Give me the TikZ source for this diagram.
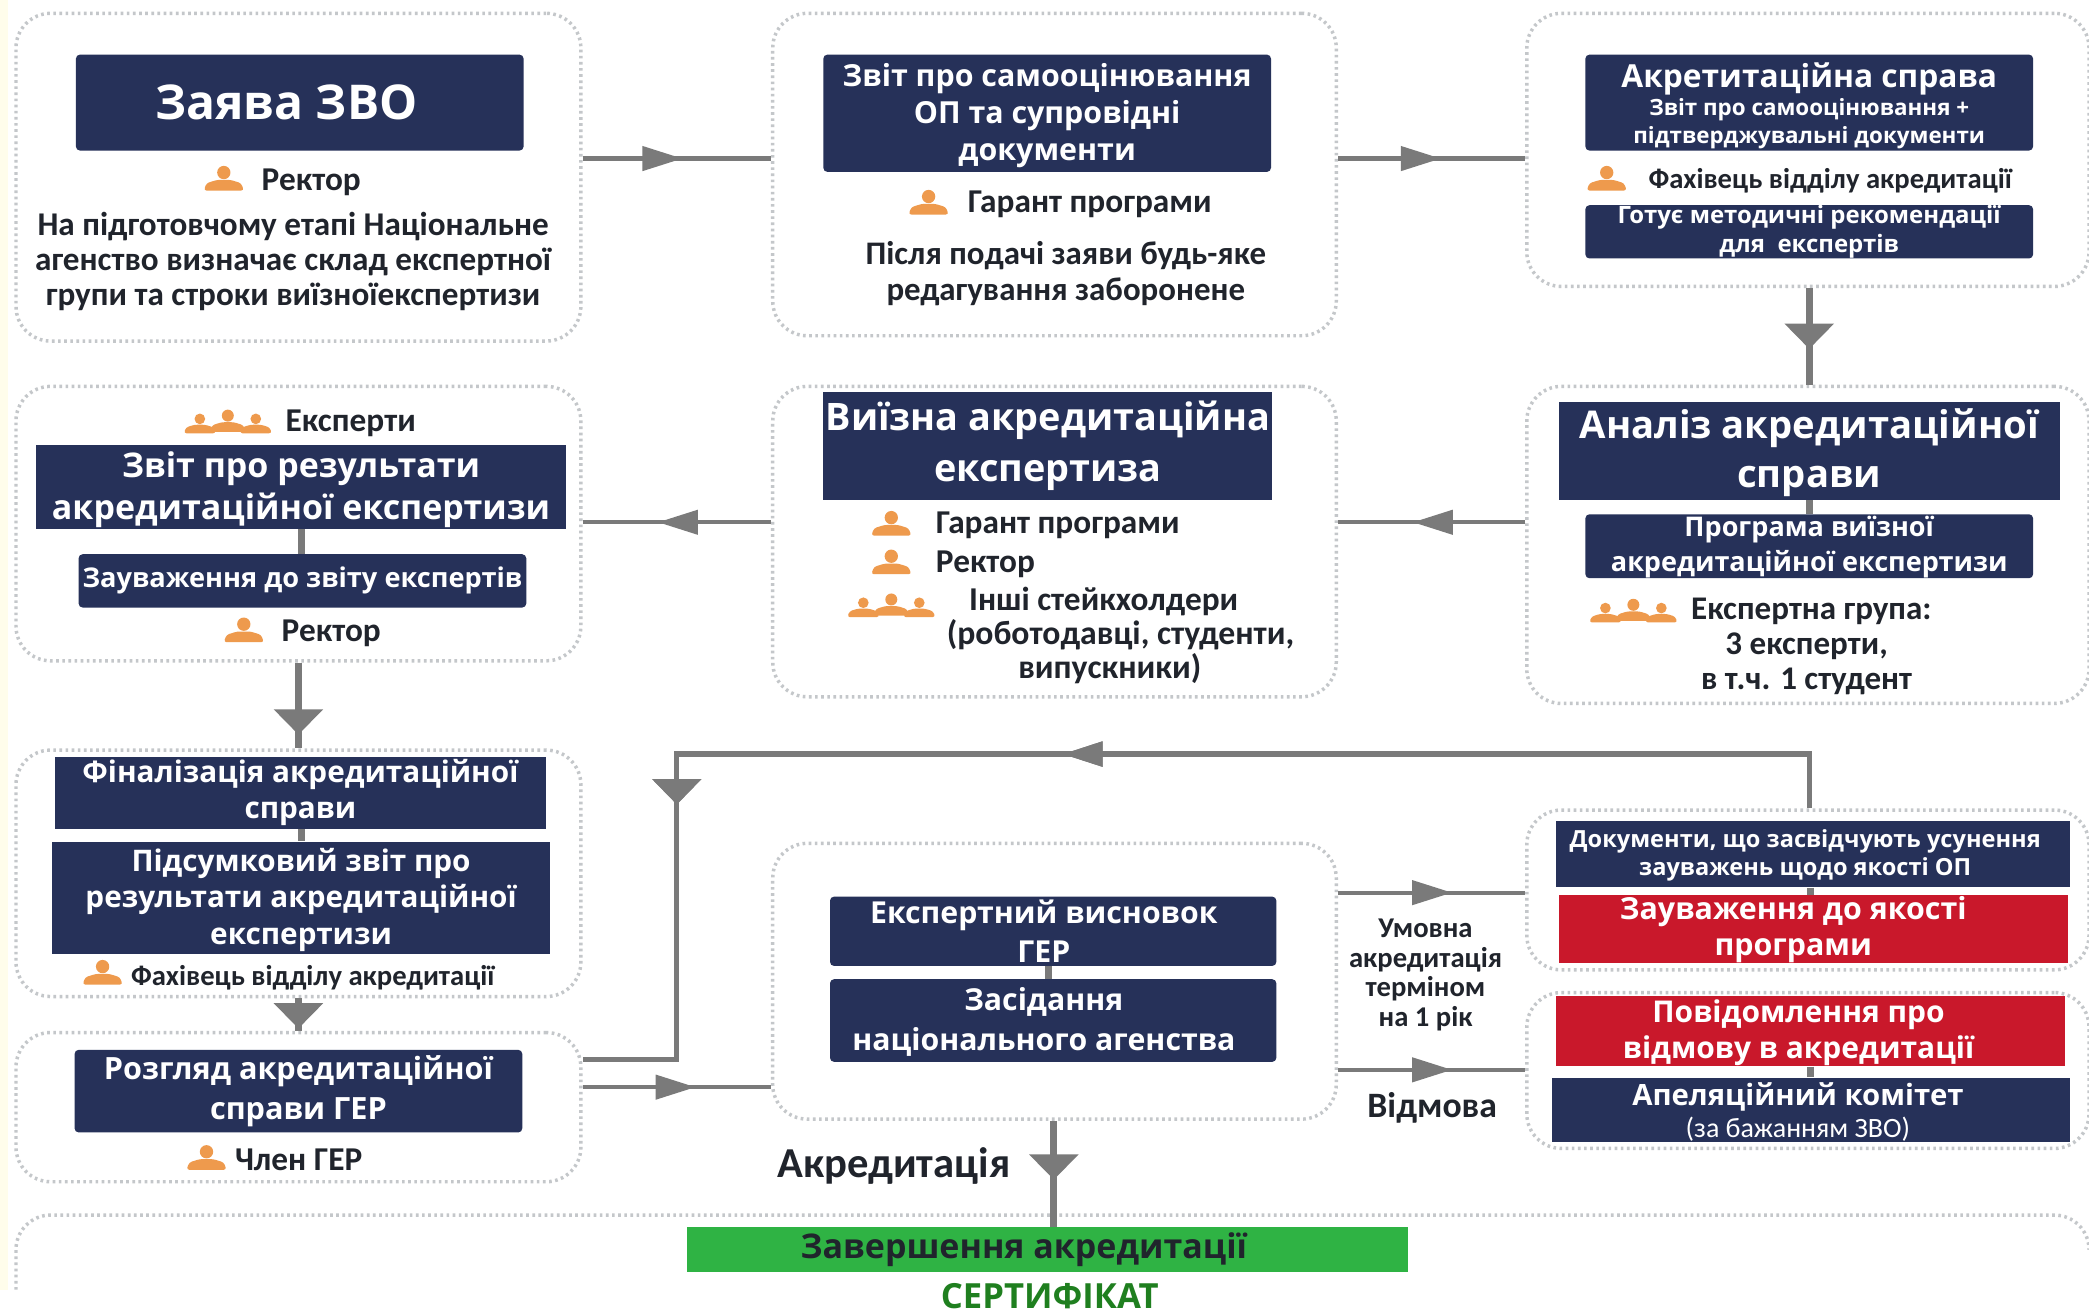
\documentclass[tikz,border=0pt]{standalone}
\usepackage{fontspec}
\setmainfont{Open Sans}
\newfontfamily\bodyf{Carlito}
\usetikzlibrary{arrows.meta,decorations.markings}
\definecolor{navy}{HTML}{263159}
\definecolor{redbox}{HTML}{C9182B}
\definecolor{greenbox}{HTML}{2FB344}
\definecolor{certgreen}{HTML}{1F7F1F}
\definecolor{connc}{HTML}{7A7A7A}
\definecolor{dotc}{HTML}{C4C7CA}
\definecolor{iconc}{HTML}{EE9A4D}
\definecolor{cream}{HTML}{FFFDEB}
\definecolor{inkc}{HTML}{20242C}
\newcommand{\fsz}[2]{\pgfmathsetmacro\fa{#1*0.5}\pgfmathsetmacro\fb{#2*0.5}\fontsize{\fa pt}{\fb pt}\selectfont}
% style, name, x1, y1, x2, y2, text
\newcommand{\bx}[7]{%
  \pgfmathsetmacro\cxx{(#3+#5)/2}\pgfmathsetmacro\cyy{(#4+#6)/2}%
  \pgfmathsetmacro\wdd{(#5-#3)*0.5}\pgfmathsetmacro\htt{(#6-#4)*0.5}%
  \node[#1,minimum width=\wdd pt,minimum height=\htt pt] (#2) at (\cxx,\cyy) {#7};}
\tikzset{
  x=0.5pt,y=-0.5pt,
  sz/.style 2 args={font=\bfseries\fsz{#1}{#2}},
  bsz/.style 2 args={font=\bodyf\bfseries\fsz{#1}{#2}},
  container/.style={draw=dotc,line width=1.3pt,dash pattern=on 1pt off 1.3pt,rounded corners=13pt,inner sep=0pt},
  navybox/.style={fill=navy,text=white,align=center,inner sep=0pt},
  roundnavy/.style={navybox,rounded corners=1.5pt},
  redfill/.style={navybox,fill=redbox},
  greenfill/.style={fill=greenbox,text=inkc,align=center,inner sep=0pt},
  bodytext/.style={text=inkc,align=center,inner sep=0pt,yshift=-0.6pt},
  lefttext/.style={bodytext,anchor=west,yshift=-0.2pt},
  conn/.style={draw=connc,line width=1.6pt},
  vconn/.style={draw=connc,line width=2.6pt},
  htip/.style={postaction={decorate},decoration={markings,mark=at position #1 with {\arrow[connc]{Triangle[length=15pt,width=9pt]}}}},
  vtip/.style={postaction={decorate},decoration={markings,mark=at position #1 with {\arrow[connc]{Triangle[length=9.5pt,width=18pt]}}}},
  person/.pic={
    \fill[iconc] (0,-4.5) circle[radius=5];
    \fill[iconc,rounded corners=1pt] (-15,9) -- (-13,3.5) -- (-5,1) -- (5,1) -- (13,3.5) -- (15,9) -- cycle;
  },
  people/.pic={
    \begin{scope}[shift={(-21,2)},scale=.8]\fill[iconc] (0,-4.5) circle[radius=5];\fill[iconc,rounded corners=1pt] (-15,9) -- (-13,3.5) -- (-5,1) -- (5,1) -- (13,3.5) -- (15,9) -- cycle;\end{scope}
    \begin{scope}[shift={(21,2)},scale=.8]\fill[iconc] (0,-4.5) circle[radius=5];\fill[iconc,rounded corners=1pt] (-15,9) -- (-13,3.5) -- (-5,1) -- (5,1) -- (13,3.5) -- (15,9) -- cycle;\end{scope}
    \begin{scope}[shift={(0,0)},scale=.9]\fill[iconc] (0,-4.5) circle[radius=5];\fill[iconc,rounded corners=1pt] (-15,9) -- (-13,3.5) -- (-5,1) -- (5,1) -- (13,3.5) -- (15,9) -- cycle;\end{scope}
  },
}
\begin{document}
\begin{tikzpicture}
\useasboundingbox (0,0) rectangle (1568,987);
\fill[white] (0,0) rectangle (1568,987);
\fill[cream] (0,0) rectangle (6,968);
% containers
\bx{container}{c1}{12}{10}{436}{256}{}
\bx{container}{c2}{580}{10}{1003}{252}{}
\bx{container}{c3}{1146}{10}{1568}{215}{}
\bx{container}{c4}{1146}{290}{1568}{528}{}
\bx{container}{c5}{580}{290}{1003}{523}{}
\bx{container}{c6}{12}{290}{436}{496}{}
\bx{container}{c7}{12}{563}{436}{748}{}
\bx{container}{c8}{12}{775}{436}{887}{}
\bx{container}{c9}{580}{633}{1003}{840}{}
\bx{container}{c10}{1146}{608}{1568}{728}{}
\bx{container}{c11}{1146}{745}{1568}{862}{}
\coordinate (c12a) at (12,968);
\coordinate (c12b) at (1568,935);
\coordinate (c12top) at (791,912);
\draw[draw=dotc,line width=1.3pt,dash pattern=on 1pt off 1.3pt,rounded corners=13pt] (c12a) -- (12,912) -- (1568,912) -- (c12b);
% connectors
\draw[conn,htip=.53] (c1.east |- 0,119) -- (c2.west |- 0,119);
\draw[conn,htip=.55] (c2.east |- 0,119) -- (c3.west |- 0,119);
\draw[vconn,vtip=.63] (c3.south -| 1358,0) -- (c4.north -| 1358,0);
\draw[conn,htip=.6] (c4.west |- 0,392) -- (c5.east |- 0,392);
\draw[conn,htip=.6] (c5.west |- 0,392) -- (c6.east |- 0,392);
\draw[vconn,vtip=.84] (c6.south -| 224,0) -- (c7.north -| 224,0);
\draw[vconn,vtip=.93] (c7.south -| 224,0) -- (c8.north -| 224,0);
\draw[conn,htip=.6] (c8.east |- 0,816) -- (c9.west |- 0,816);
\draw[conn,htip=.61] (c9.east |- 0,670) -- (c10.west |- 0,670);
\draw[conn,htip=.61] (c9.east |- 0,803) -- (c11.west |- 0,803);
\draw[vconn,vtip=.625] (c9.south -| 791,0) -- (c12top);
\draw[vconn] (c12top) -- (791,921);
\draw[conn,line width=2pt,htip=.505,vtip=.78] (c10.north -| 1358,0) -- (1358,566) -- (508,566) -- (508,795) -- (c8.east |- 0,795);
% navy boxes
\bx{roundnavy,sz={36}{40}}{a1}{57}{41}{393}{113}{\hspace*{-10pt}Заява ЗВО}
\bx{roundnavy,sz={22.8}{27.5}}{a2}{618}{41}{954}{129}{\rule{0pt}{10.5pt}Звіт про самооцінювання\\ОП та супровідні\\документи}
\bx{roundnavy,sz={16.8}{21}}{a3}{1190}{41}{1526}{113}{\rule{0pt}{12pt}\fsz{23.8}{21}Акретитаційна справа\\Звіт про самооцінювання +\\підтверджувальні документи}
\bx{roundnavy,sz={18}{22}}{a3b}{1190}{154}{1526}{194}{Готує методичні рекомендації\\для\ \ експертів}
\bx{navybox,sz={28.7}{37}}{a4}{1170}{302}{1546}{375}{\rule{0pt}{12.3pt}Аналіз акредитаційної\\справи}
\bx{roundnavy,sz={20.3}{26}}{a4b}{1190}{386}{1526}{434}{\rule{0pt}{8.3pt}Програма виїзної\\акредитаційної експертизи}
\bx{navybox,sz={28.4}{38}}{a5}{618}{294}{955}{375}{\rule{0pt}{11.3pt}Виїзна акредитаційна\\експертиза}
\bx{navybox,sz={25.5}{31.5}}{a6}{27}{334}{425}{397}{\rule{0pt}{12pt}Звіт про результати\\акредитаційної експертизи}
\bx{roundnavy,sz={20.4}{24}}{a6b}{59}{416}{395}{456}{Зауваження до звіту експертів}
\bx{navybox,sz={22.3}{27}}{a7}{41}{568}{410}{622}{Фіналізація акредитаційної\\справи}
\bx{navybox,sz={22.3}{27.5}}{a7b}{39}{632}{413}{716}{\rule{0pt}{10pt}Підсумковий звіт про\\результати акредитаційної\\експертизи}
\bx{roundnavy,sz={23}{30}}{a8}{56}{788}{392}{850}{Розгляд акредитаційної\\справи ГЕР}
\bx{roundnavy,sz={22.7}{29}}{a9}{623}{673}{958}{725}{\hspace*{-7pt}Експертний висновок\\\hspace*{-7pt}ГЕР}
\bx{roundnavy,sz={22.7}{30}}{a9b}{623}{735}{958}{797}{\rule{0pt}{9.5pt}\hspace*{-7pt}Засідання\\\hspace*{-7pt}національного агенства}
\bx{navybox,sz={17.7}{21}}{a10}{1168}{616}{1554}{666}{\rule{0pt}{8pt}\hspace*{-6pt}Документи, що засвідчують усунення\\\hspace*{-6pt}зауважень щодо якості ОП}
\bx{redfill,sz={22.8}{27}}{a10b}{1170}{672}{1552}{723}{\hspace*{-15pt}Зауваження до якості\\\hspace*{-15pt}програми}
\bx{redfill,sz={22.5}{27}}{a11}{1168}{749}{1550}{799}{\rule{0pt}{10pt}\hspace*{-9pt}Повідомлення про\\\hspace*{-9pt}відмову в акредитації}
\bx{navybox,sz={22}{24}}{a11b}{1165}{809}{1554}{857}{\rule{0pt}{10pt}\hspace*{-10pt}Апеляційний комітет\\\hspace*{-10pt}\bodyf\mdseries\fsz{21}{24}(за бажанням ЗВО)}
\bx{greenfill,sz={25.5}{27}}{a12}{516}{921}{1057}{955}{\hspace*{-18pt}Завершення акредитації}
% inner connectors
\draw[vconn] (a4.south -| 1358,0) -- (a4b.north -| 1358,0);
\draw[vconn] (a6.south -| 226,0) -- (a6b.north -| 226,0);
\draw[vconn] (a7.south -| 226,0) -- (a7b.north -| 226,0);
\draw[vconn] (a9.south -| 787,0) -- (a9b.north -| 787,0);
\draw[vconn] (a10.south -| 1359,0) -- (a10b.north -| 1359,0);
\draw[vconn] (a11.south -| 1359,0) -- (a11b.north -| 1359,0);
% icons
\pic at (168,134) {person};
\pic at (697,152) {person};
\pic at (1206,134) {person};
\pic at (669,393) {person};
\pic at (669,422) {person};
\pic at (183,473) {person};
\pic at (77,730) {person};
\pic at (155,869) {person};
\pic at (1226,458) {people};
\pic at (669,454) {people};
\pic at (171,316) {people};
% texts
\node[lefttext,bsz={25}{28}] (t1) at (196,135) {Ректор};
\node[bodytext,bsz={24.9}{26}] (t2) at (220,195) {На підготовчому етапі Національне\\агенство визначає склад експертної\\групи та строки виїзноїекспертизи};
\node[lefttext,bsz={25}{28}] (t3) at (726,152) {Гарант програми};
\node[bodytext,bsz={24.7}{27}] (t4) at (800,204.5) {Після подачі заяви будь-яке\\редагування заборонене};
\node[lefttext,bsz={21.5}{28}] (t5) at (1237,134) {Фахівець відділу акредитації};
\node[lefttext,bsz={24.8}{28}] (t6) at (1269,457) {Експертна група:};
\node[bodytext,bsz={24.8}{26}] (t7) at (1356,497) {3 експерти,\\в т.ч. 1 студент};
\node[lefttext,bsz={25}{28}] (t8) at (702,393) {Гарант програми};
\node[lefttext,bsz={25}{28}] (t9) at (702,422) {Ректор};
\node[lefttext,bsz={25}{28}] (t10) at (727,450) {Інші стейкхолдери};
\node[bodytext,bsz={25.3}{26}] (t11) at (841,488) {(роботодавці, студенти,\\\hspace*{-8pt}випускники)};
\node[lefttext,bsz={25}{28}] (t12) at (214,316) {Експерти};
\node[lefttext,bsz={25}{28}] (t13) at (211,474) {Ректор};
\node[lefttext,bsz={21.5}{28}] (t14) at (98,732) {Фахівець відділу акредитації};
\node[lefttext,bsz={25}{28}] (t15) at (176,869) {Член ГЕР};
\node[bodytext,bsz={21.5}{22.3}] (t16) at (1070,730.5) {Умовна\\акредитація\\терміном\\на 1 рік};
\node[bodytext,bsz={26.8}{28}] (t17) at (1075,830) {Відмова};
\node[bodytext,bsz={32}{32}] (t18) at (671,874) {Акредитація};
\node[text=certgreen,sz={26}{27},inner sep=0pt] (t19) at (788,973) {СЕРТИФІКАТ};
\end{tikzpicture}
\end{document}
